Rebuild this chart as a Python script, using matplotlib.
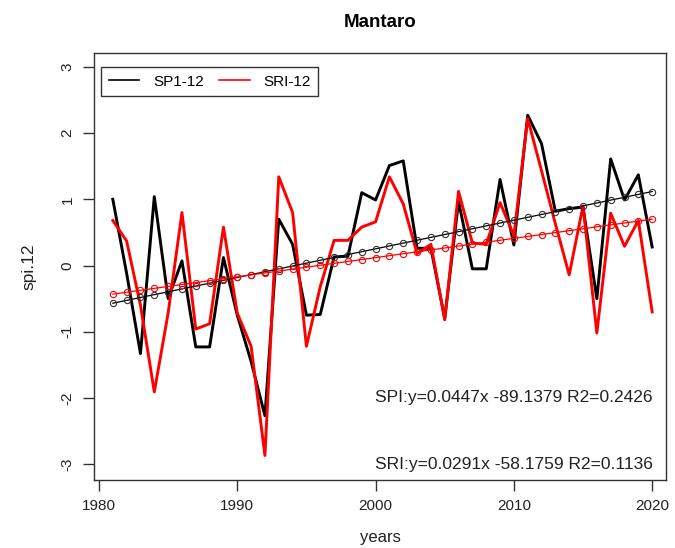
import numpy as np
import matplotlib
matplotlib.use("Agg")
import matplotlib.pyplot as plt
from matplotlib.lines import Line2D

plt.rcParams['font.family'] = ['Liberation Sans', 'DejaVu Sans']

years = list(range(1981, 2021))
spi12 = [1.00, -0.12, -1.33, 1.04, -0.50, 0.07, -1.23, -1.23, 0.12, -0.75,
         -1.45, -2.27, 0.70, 0.32, -0.75, -0.74, 0.13, 0.14, 1.10, 0.99,
         1.51, 1.58, 0.26, 0.26, -0.80, 0.97, -0.05, -0.05, 1.30, 0.31,
         2.27, 1.84, 0.82, 0.86, 0.88, -0.50, 1.61, 0.99, 1.37, 0.28]
sri12 = [0.68, 0.37, -0.60, -1.91, -0.72, 0.80, -0.96, -0.88, 0.58, -0.72,
         -1.22, -2.87, 1.34, 0.80, -1.22, -0.32, 0.38, 0.38, 0.58, 0.66,
         1.34, 0.93, 0.18, 0.32, -0.82, 1.12, 0.34, 0.32, 0.95, 0.45,
         2.22, 1.43, 0.63, -0.14, 0.90, -1.02, 0.79, 0.29, 0.68, -0.70]
xticks = [1980, 1990, 2000, 2010, 2020]
yticks = [-3, -2, -1, 0, 1, 2, 3]
legend_labels = ["SP1-12", "SRI-12"]
eq_texts = ["SPI:y=0.0447x -89.1379 R2=0.2426",
            "SRI:y=0.0291x -58.1759 R2=0.1136"]
title = "Mantaro"

x = np.array(years, dtype=float)
s1 = np.array(spi12)
s2 = np.array(sri12)
p1 = np.polyfit(x, s1, 1)
p2 = np.polyfit(x, s2, 1)

fig = plt.figure(figsize=(6.75, 5.48), dpi=100)
ax = fig.add_axes([94/675, 1-480/548, (666-94)/675, (480-53)/548])

ax.plot(x, s1, color='black', lw=2.1, zorder=3)
ax.plot(x, s2, color='red', lw=2.1, zorder=4)
ax.plot(x, np.polyval(p1, x), color='black', lw=0.9, marker='o', ms=4.5,
        mfc='none', mec='#333333', mew=0.8, zorder=5)
ax.plot(x, np.polyval(p2, x), color='red', lw=0.9, marker='o', ms=4.5,
        mfc='none', mec='red', mew=0.8, zorder=5)

ax.set_xlim(1979.64, 2021.0)
ax.set_ylim(-3.24, 3.21)
ax.set_xticks(xticks)
ax.set_xticklabels([str(v) for v in xticks], fontsize=11, color='#222222')
ax.set_yticks(yticks)
ax.set_yticklabels([str(v) for v in yticks], rotation=90, va='center',
                   fontsize=11, color='#222222')
ax.tick_params(axis='both', direction='out', length=8, width=1,
               color='#333333', pad=6)
for sp in ax.spines.values():
    sp.set_linewidth(1.0)
    sp.set_color('#333333')

ax.set_xlabel('years', fontsize=12, color='#222222', labelpad=12)
ax.set_ylabel('spi.12', fontsize=12.5, color='#222222', labelpad=17)
ax.set_title(title, fontsize=13.5, fontweight='bold', pad=19)

ax.text(2010, -2, eq_texts[0], ha='center', va='center', fontsize=12.5, color='#222222')
ax.text(2010, -3, eq_texts[1], ha='center', va='center', fontsize=12.5, color='#222222')

handles = [Line2D([], [], color='black', lw=1.2), Line2D([], [], color='red', lw=1.2)]
leg = ax.legend(handles, legend_labels, loc='upper left', bbox_to_anchor=(7/572, 1-14/427),
                ncol=2, frameon=True, fancybox=False, edgecolor='black', fontsize=11,
                handlelength=2.0, columnspacing=1.0, borderpad=0.5, handletextpad=0.9,
                borderaxespad=0)
leg.get_frame().set_linewidth(1.0)

fig.savefig('out.png', dpi=100)
